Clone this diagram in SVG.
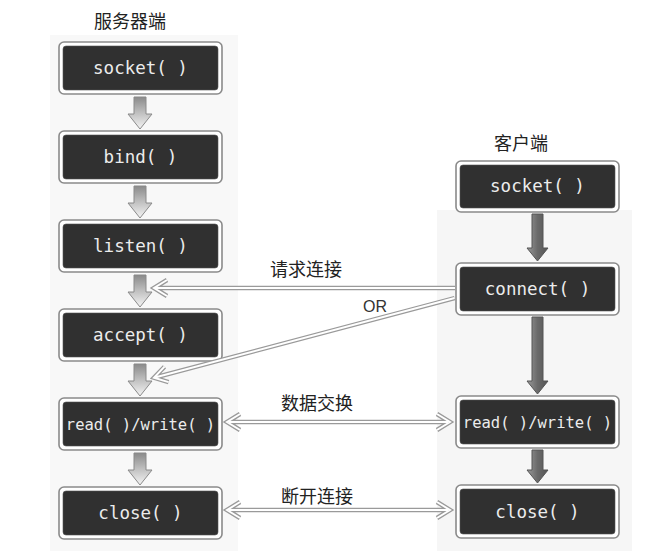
<svg xmlns="http://www.w3.org/2000/svg" width="664" height="551" viewBox="0 0 664 551">
<style>
.outer{fill:#ffffff;stroke:#8a8a8a;stroke-width:1.6}
.inner{fill:#303030;stroke:#555;stroke-width:0.6}
.fn{font-family:"DejaVu Sans Mono","Liberation Mono",monospace;font-size:17.5px;fill:#ececec;text-anchor:middle}
.title{font-family:"Noto Sans CJK SC",sans-serif;font-size:18px;fill:#222;text-anchor:middle}
.lbl{font-family:"Noto Sans CJK SC",sans-serif;font-size:18px;fill:#222;text-anchor:middle}
.or{font-family:"Liberation Sans",Arial,sans-serif;font-size:16px;fill:#333;text-anchor:middle}
.sarrow{fill:url(#sg);stroke:#8a8a8a;stroke-width:1}
.carrow{fill:url(#cg);stroke:#555;stroke-width:1}
.dl1{fill:none;stroke:#9a9a9a;stroke-width:4.5;stroke-linejoin:miter}
.dl2{fill:none;stroke:#ffffff;stroke-width:2;stroke-linejoin:miter}
</style>
<defs>
<linearGradient id="sg" x1="0" y1="0" x2="0" y2="1">
<stop offset="0" stop-color="#8a8a8a"/>
<stop offset="0.5" stop-color="#c0c0c0"/>
<stop offset="1" stop-color="#f4f4f4"/>
</linearGradient>
<linearGradient id="cg" x1="0" y1="0" x2="1" y2="0">
<stop offset="0" stop-color="#9a9a9a"/>
<stop offset="0.5" stop-color="#6a6a6a"/>
<stop offset="1" stop-color="#555"/>
</linearGradient>
</defs>
<rect x="0" y="0" width="664" height="551" fill="#ffffff"/>
<rect x="50" y="35" width="188" height="516" fill="#f8f8f8"/>
<rect x="437" y="210" width="195" height="341" fill="#f6f6f6"/>

<text class="title" x="130" y="28">服务器端</text>
<text class="title" x="521" y="150">客户端</text>

<g id="s_socket"><rect class="outer" x="59" y="42" width="163" height="52" rx="5"/><rect class="inner" x="63" y="46" width="155" height="44" rx="3"/><text class="fn" x="140.5" y="74">socket( )</text></g>
<g id="s_bind"><rect class="outer" x="59" y="131" width="163" height="52" rx="5"/><rect class="inner" x="63" y="135" width="155" height="44" rx="3"/><text class="fn" x="140.5" y="163">bind( )</text></g>
<g id="s_listen"><rect class="outer" x="59" y="220" width="163" height="52" rx="5"/><rect class="inner" x="63" y="224" width="155" height="44" rx="3"/><text class="fn" x="140.5" y="252">listen( )</text></g>
<g id="s_accept"><rect class="outer" x="59" y="309" width="163" height="52" rx="5"/><rect class="inner" x="63" y="313" width="155" height="44" rx="3"/><text class="fn" x="140.5" y="341">accept( )</text></g>
<g id="s_rw"><rect class="outer" x="59" y="398" width="163" height="52" rx="5"/><rect class="inner" x="63" y="402" width="155" height="44" rx="3"/><text class="fn" x="140.5" y="430" style="font-size:15.5px">read( )/write( )</text></g>
<g id="s_close"><rect class="outer" x="59" y="487" width="163" height="52" rx="5"/><rect class="inner" x="63" y="491" width="155" height="44" rx="3"/><text class="fn" x="140.5" y="519">close( )</text></g>

<g id="c_socket"><rect class="outer" x="456" y="161" width="163" height="51" rx="5"/><rect class="inner" x="460" y="165" width="155" height="43" rx="3"/><text class="fn" x="537.5" y="192">socket( )</text></g>
<g id="c_connect"><rect class="outer" x="456" y="263" width="163" height="52" rx="5"/><rect class="inner" x="460" y="267" width="155" height="44" rx="3"/><text class="fn" x="537.5" y="295">connect( )</text></g>
<g id="c_rw"><rect class="outer" x="456" y="396" width="163" height="52" rx="5"/><rect class="inner" x="460" y="400" width="155" height="44" rx="3"/><text class="fn" x="537.5" y="428" style="font-size:15.5px">read( )/write( )</text></g>
<g id="c_close"><rect class="outer" x="456" y="485" width="163" height="53" rx="5"/><rect class="inner" x="460" y="489" width="155" height="45" rx="3"/><text class="fn" x="537.5" y="518">close( )</text></g>

<g id="connectors">
<path class="sarrow" d="M134,97 H146 V114 H152 L140,129 L128,114 H134 Z"/>
<path class="sarrow" d="M134,186 H146 V203 H152 L140,218 L128,203 H134 Z"/>
<path class="sarrow" d="M134,275 H146 V292 H152 L140,307 L128,292 H134 Z"/>
<path class="sarrow" d="M134,364 H146 V381 H152 L140,396 L128,381 H134 Z"/>
<path class="sarrow" d="M134,453 H146 V470 H152 L140,485 L128,470 H134 Z"/>

<path class="carrow" d="M532,214 H543 V248 H548 L537.5,261 L527,248 H532 Z"/>
<path class="carrow" d="M532,317 H543 V381 H548 L537.5,394 L527,381 H532 Z"/>
<path class="carrow" d="M532,450 H543 V470 H548 L537.5,483 L527,470 H532 Z"/>

<g id="e_request">
<path class="dl1" d="M455,288 H155 M167,280 L154,288 L167,296"/>
<path class="dl2" d="M455,288 H155 M167,280 L154,288 L167,296"/>
</g>
<g id="e_or" transform="translate(153,378) rotate(-14.84)">
<path class="dl1" d="M312,0 H2 M14,-8 L1,0 L14,8"/>
<path class="dl2" d="M312,0 H2 M14,-8 L1,0 L14,8"/>
</g>
<g id="e_data">
<path class="dl1" d="M229,422 H448 M240,414 L227,422 L240,430 M437,414 L450,422 L437,430"/>
<path class="dl2" d="M229,422 H448 M240,414 L227,422 L240,430 M437,414 L450,422 L437,430"/>
</g>
<g id="e_close">
<path class="dl1" d="M229,510 H448 M240,502 L227,510 L240,518 M437,502 L450,510 L437,518"/>
<path class="dl2" d="M229,510 H448 M240,502 L227,510 L240,518 M437,502 L450,510 L437,518"/>
</g>
</g>

<text class="lbl" x="306" y="276">请求连接</text>
<text class="or" x="375" y="312">OR</text>
<text class="lbl" x="317" y="410">数据交换</text>
<text class="lbl" x="317" y="503">断开连接</text>
</svg>
